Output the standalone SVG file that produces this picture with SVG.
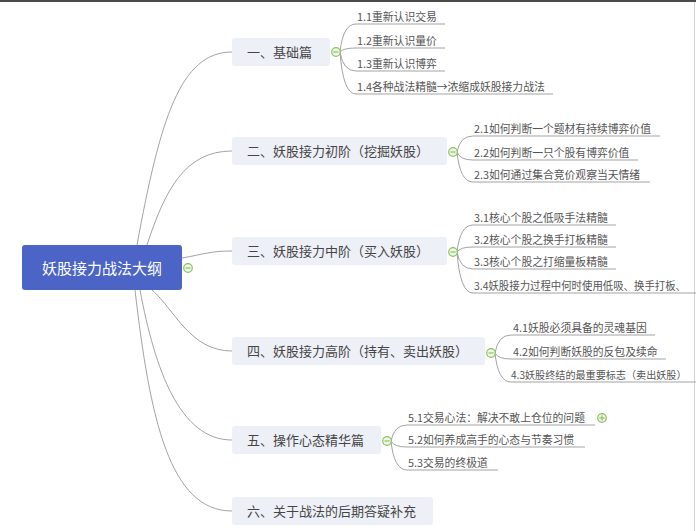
<svg xmlns="http://www.w3.org/2000/svg" width="696" height="531" viewBox="0 0 696 531">
<style>
.line{fill:none;stroke:#a3a3a3;stroke-width:1}
.branch rect{fill:#eef0f7}
.btxt{font-family:"Noto Sans CJK SC","Noto Sans",sans-serif;font-size:13px;fill:#454545}
.stxt{font-family:"Noto Sans CJK SC","Noto Sans",sans-serif;font-size:10.8px;fill:#555}
.tog{fill:#eef7e6;stroke:#8cc260;stroke-width:1.2}
.togm{stroke:#8cc260;stroke-width:1.2}
</style>
<rect x="0" y="0" width="696" height="531" fill="#ffffff"/>
<rect x="0" y="0" width="696" height="2" fill="#4a4a4a"/>
<line x1="694.5" y1="2" x2="694.5" y2="531" stroke="#d4d4d4" stroke-width="1"/>

<g id="connectors">
  <path class="line" d="M137 245 C160 120 180 52 232 52"/>
  <path class="line" d="M147 245 C165 190 185 151 232 151"/>
  <path class="line" d="M182 258 C205 254 210 251 232 251"/>
  <path class="line" d="M152 290 C175 310 190 351 232 351"/>
  <path class="line" d="M140 290 C155 370 180 440 232 440"/>
  <path class="line" d="M135 290 C150 420 170 511 232 511"/>
  <path class="line" d="M340 52 Q343 24 356 24 H445"/>
  <path class="line" d="M340 52 Q343 48 356 48 H445"/>
  <path class="line" d="M340 52 Q343 71 356 71 H445"/>
  <path class="line" d="M340 52 Q343 94 356 94 H553"/>
  <path class="line" d="M457 152 Q460 136 473 136 H660"/>
  <path class="line" d="M457 152 Q460 160 473 160 H638"/>
  <path class="line" d="M457 152 Q460 182 473 182 H650"/>
  <path class="line" d="M457 252 Q460 225 473 225 H616"/>
  <path class="line" d="M457 252 Q460 247 473 247 H616"/>
  <path class="line" d="M457 252 Q460 269 473 269 H616"/>
  <path class="line" d="M457 252 Q460 293 473 293 H696"/>
  <path class="line" d="M495 353 Q498 335 511 335 H655"/>
  <path class="line" d="M495 353 Q498 359 511 359 H666"/>
  <path class="line" d="M495 353 Q498 382 511 382 H696"/>
  <path class="line" d="M391 441 Q394 425 407 425 H595"/>
  <path class="line" d="M391 441 Q394 447 407 447 H585"/>
  <path class="line" d="M391 441 Q394 470 407 470 H498"/>
</g>

<g id="root">
  <rect x="22" y="245" width="160" height="45" rx="3" fill="#4b64c6"/>
  <text x="102" y="273.5" text-anchor="middle" font-family="Noto Sans CJK SC, sans-serif" font-size="15" fill="#ffffff">妖股接力战法大纲</text>
  <circle class="tog" cx="188" cy="268" r="4.3"/>
  <line class="togm" x1="185.5" y1="268" x2="190.5" y2="268"/>
</g>

<g id="b1" class="branch">
  <rect x="232" y="38" width="98" height="28" rx="3"/>
  <text class="btxt" x="247" y="56.5">一、基础篇</text>
  <circle class="tog" cx="336" cy="52" r="4.3"/>
  <line class="togm" x1="333.5" y1="52" x2="338.5" y2="52"/>
</g>
<g id="b2" class="branch">
  <rect x="232" y="137" width="215" height="28" rx="3"/>
  <text class="btxt" x="247" y="155.5">二、妖股接力初阶（挖掘妖股）</text>
  <circle class="tog" cx="453" cy="152" r="4.3"/>
  <line class="togm" x1="450.5" y1="152" x2="455.5" y2="152"/>
</g>
<g id="b3" class="branch">
  <rect x="232" y="237" width="215" height="28" rx="3"/>
  <text class="btxt" x="247" y="255.5">三、妖股接力中阶（买入妖股）</text>
  <circle class="tog" cx="453" cy="252" r="4.3"/>
  <line class="togm" x1="450.5" y1="252" x2="455.5" y2="252"/>
</g>
<g id="b4" class="branch">
  <rect x="232" y="337" width="253" height="28" rx="3"/>
  <text class="btxt" x="247" y="355.5">四、妖股接力高阶（持有、卖出妖股）</text>
  <circle class="tog" cx="491" cy="353" r="4.3"/>
  <line class="togm" x1="488.5" y1="353" x2="493.5" y2="353"/>
</g>
<g id="b5" class="branch">
  <rect x="232" y="426" width="149" height="28" rx="3"/>
  <text class="btxt" x="247" y="444.5">五、操作心态精华篇</text>
  <circle class="tog" cx="387" cy="441" r="4.3"/>
  <line class="togm" x1="384.5" y1="441" x2="389.5" y2="441"/>
</g>
<g id="b6" class="branch">
  <rect x="232" y="497" width="201" height="28" rx="3"/>
  <text class="btxt" x="247" y="515.5">六、关于战法的后期答疑补充</text>
</g>

<g id="leaves">
  <text class="stxt" x="357" y="21">1.1重新认识交易</text>
  <text class="stxt" x="357" y="45">1.2重新认识量价</text>
  <text class="stxt" x="357" y="68">1.3重新认识博弈</text>
  <text class="stxt" x="357" y="91">1.4各种战法精髓→浓缩成妖股接力战法</text>
  <text class="stxt" x="474" y="133">2.1如何判断一个题材有持续博弈价值</text>
  <text class="stxt" x="474" y="157">2.2如何判断一只个股有博弈价值</text>
  <text class="stxt" x="474" y="179">2.3如何通过集合竞价观察当天情绪</text>
  <text class="stxt" x="474" y="222">3.1核心个股之低吸手法精髓</text>
  <text class="stxt" x="474" y="244">3.2核心个股之换手打板精髓</text>
  <text class="stxt" x="474" y="266">3.3核心个股之打缩量板精髓</text>
  <text class="stxt" x="474" y="290" textLength="212" lengthAdjust="spacingAndGlyphs">3.4妖股接力过程中何时使用低吸、换手打板、</text>
  <text class="stxt" x="513" y="332">4.1妖股必须具备的灵魂基因</text>
  <text class="stxt" x="513" y="356">4.2如何判断妖股的反包及续命</text>
  <text class="stxt" x="511" y="379" style="font-size:10.1px">4.3妖股终结的最重要标志（卖出妖股）</text>
  <text class="stxt" x="408" y="422">5.1交易心法：解决不敢上仓位的问题</text>
  <circle class="tog" cx="602" cy="418" r="4.3"/>
  <line class="togm" x1="599.5" y1="418" x2="604.5" y2="418"/>
  <line class="togm" x1="602" y1="415.5" x2="602" y2="420.5"/>
  <text class="stxt" x="408" y="444">5.2如何养成高手的心态与节奏习惯</text>
  <text class="stxt" x="408" y="467">5.3交易的终极道</text>
</g>
</svg>
